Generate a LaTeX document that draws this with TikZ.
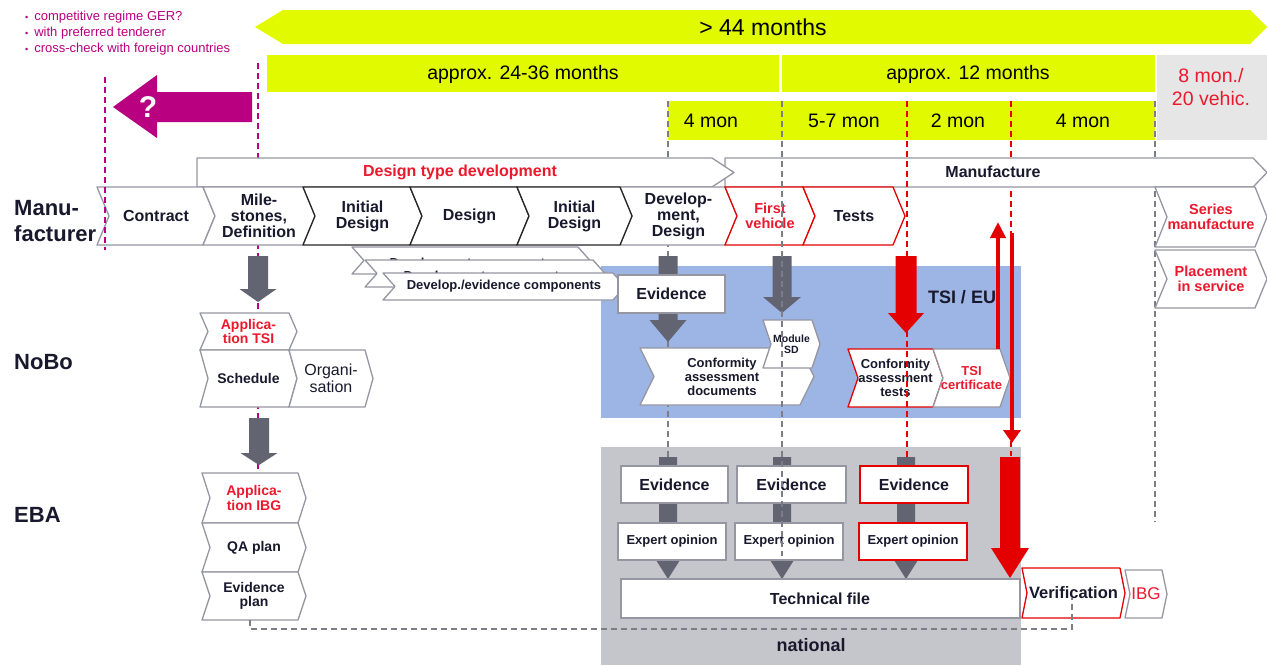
\documentclass[tikz,border=0pt]{standalone}
\usepackage{fontspec}
\setmainfont{Liberation Sans}
\usetikzlibrary{arrows.meta}
\definecolor{ylw}{RGB}{226,250,0}
\definecolor{mag}{RGB}{184,0,128}
\definecolor{blu}{RGB}{157,181,228}
\definecolor{nat}{RGB}{197,197,204}
\definecolor{gar}{RGB}{99,100,114}
\definecolor{cred}{RGB}{228,0,0}
\definecolor{tred}{RGB}{235,25,45}
\definecolor{ctext}{RGB}{25,25,45}
\definecolor{cgrey}{RGB}{150,150,162}
\definecolor{lgrey}{RGB}{230,230,230}
\definecolor{dgrey}{RGB}{125,125,135}
\newcommand{\fs}[2]{\fontsize{#1}{#2}\selectfont}
\tikzset{
 txt/.style={inner sep=0pt, align=center, text=ctext},
 rtxt/.style={text=tred},
 b16/.style={txt,font=\fs{16}{16}\bfseries},
 b15/.style={txt,font=\fs{14.5}{15}\bfseries},
 b14/.style={txt,font=\fs{14}{14.5}\bfseries},
 b13/.style={txt,font=\fs{13}{14}\bfseries},
 r16/.style={txt,font=\fs{16}{17}},
 tl/.style={inner sep=0pt, align=center, text=black, font=\fs{19.5}{23}},
 lab/.style={inner sep=0pt, align=left, text=ctext, font=\fs{22}{26}\bfseries, anchor=west},
 chevline/.style={draw=cgrey, line width=1.3pt, fill=white, line join=round},
 blk/.style={draw=black!85},
 rbrd/.style={draw=cred},
 boxs/.style={draw=cgrey, line width=1.3pt, fill=white},
 gdash/.style={draw=dgrey, line width=1.2pt, dash pattern=on 6pt off 4pt},
 rdash/.style={draw=cred, line width=1.2pt, dash pattern=on 6pt off 4pt},
 mdash/.style={draw=mag, line width=1.5pt, dash pattern=on 6pt off 4pt},
 note/.style={font=\fs{13}{16}, text=mag, anchor=west, inner sep=0pt},
}
% chevron: [style]{name}{x1}{y1}{x2}{y2}{depth}{textstyle}{text}
\newcommand{\chev}[9][]{%
 \draw[chevline,#1] (#3,#4) -- (#5,#4) -- ({#5+#7},{(#4+#6)/2}) -- (#5,#6) -- (#3,#6) -- ({#3+#7},{(#4+#6)/2}) -- cycle;
 \node[#8] (#2) at ({(#3+#5)/2+#7/2},{(#4+#6)/2}) {#9};
}
% block arrow: [style]{cx}{top}{headstart}{tip}{shaftw}{headw}{color}
\newcommand{\barrow}[8][]{%
 \fill[#8,#1] ({#2-#6/2},#3) -- ({#2+#6/2},#3) -- ({#2+#6/2},#4) -- ({#2+#7/2},#4) -- (#2,#5) -- ({#2-#7/2},#4) -- ({#2-#6/2},#4) -- cycle;
}
\begin{document}
\begin{tikzpicture}[x=1pt,y=-1pt]
\useasboundingbox (0,0) rectangle (1267,665);
\fill[white] (0,0) rectangle (1267,665);
% regions
\fill[blu] (601,266) rectangle (1021,418);
\fill[nat] (601,447) rectangle (1021,665);
% magenta notes
\node[note] (n1) at (25,17) {{\fs{9}{9}\textbullet}\hspace{6pt}competitive regime GER?};
\node[note] (n2) at (25,33) {{\fs{9}{9}\textbullet}\hspace{6pt}with preferred tenderer};
\node[note] (n3) at (25,49) {{\fs{9}{9}\textbullet}\hspace{6pt}cross-check with foreign countries};
\fill[mag] (113,107) -- (157,75) -- (157,92) -- (252,92) -- (252,122) -- (157,122) -- (157,138) -- cycle;
\node[inner sep=0pt, text=white, font=\fs{30}{30}\bfseries] (q) at (148,107) {?};
% timeline
\fill[ylw] (255,27) -- (283,10) -- (1250,10) -- (1267,27) -- (1250,44) -- (283,44) -- cycle;
\node[tl, font=\fs{23}{23}] (t44) at (763,27) {> 44 months};
\fill[ylw] (267,55) rectangle (779,92);
\node[tl] (t2436) at (523,74) {approx. 24-36 months};
\fill[ylw] (782,55) rectangle (1155,92);
\node[tl] (t12) at (968,74) {approx. 12 months};
\fill[lgrey] (1157,55) rectangle (1267,140);
\node[tl, text=tred] (t8) at (1211,87) {8 mon./\\20 vehic.};
\fill[ylw] (668,101) rectangle (1155,140);
\node[tl] (m1) at (711,121) {4 mon};
\node[tl] (m2) at (844,121) {5-7 mon};
\node[tl] (m3) at (958,121) {2 mon};
\node[tl] (m4) at (1083,121) {4 mon};
% early dashed lines (behind boxes)
\draw[mdash] (258,63) -- (258,472);
\draw[gdash] (668,101) -- (668,466);
\draw[rdash] (907,101) -- (907,523);
\draw[rdash] (1011,101) -- (1011,456);
\draw[gdash] (1155,101) -- (1155,522);
% phase bars
\draw[chevline] (725,158) -- (1253,158) -- (1267,172.5) -- (1253,187) -- (725,187) -- cycle;
\node[b16] (manu) at (993,172) {Manufacture};
\draw[chevline] (197,158) -- (712,158) -- (734,172.5) -- (712,187) -- (197,187) -- cycle;
\node[b16,rtxt] (dtd) at (460,172) {Design type development};
% manufacturer row
\chev{contract}{97}{187}{203}{245}{12}{b16}{Contract}
\chev{miles}{203}{187}{303}{245}{12}{b16}{Mile-\\stones,\\Definition}
\chev{devdes}{620}{187}{725}{245}{12}{b16}{Develop-\\ment,\\Design}
\chev[blk]{init1}{303}{187}{410}{245}{12}{b16}{Initial\\Design}
\chev[blk]{design}{410}{187}{517}{245}{12}{b16}{Design}
\chev[blk]{init2}{517}{187}{620}{245}{12}{b16}{Initial\\Design}
\chev[rbrd]{firstv}{725}{187}{803}{245}{12}{b15,rtxt}{First\\vehicle}
\chev[rbrd]{tests}{803}{187}{893}{245}{12}{b16}{Tests}
\chev{series}{1155}{187}{1255}{247}{12}{b15,rtxt}{Series\\manufacture}
\chev{placement}{1155}{250}{1255}{308}{12}{b15,rtxt}{Placement\\in service}
% development components stack
\chev{devcA}{352}{247}{578}{274}{12}{b13,yshift=-4pt}{Development components}
\chev{devcB}{365}{260}{593}{287}{12}{b13,yshift=-4pt}{Development components}
\chev{devcC}{383}{273}{613}{300}{12}{b13}{Develop./evidence components}
% block arrows
\barrow{258}{256}{289}{302}{20}{37}{gar}
\barrow{259}{418}{453}{465}{20}{37}{gar}
\barrow{668}{256}{320}{342}{19}{37}{gar}
\barrow{782}{256}{297}{313}{19}{38}{gar}
\barrow{906}{256}{313}{333}{21}{36}{cred}
\barrow{668}{457}{560}{579}{18}{24}{gar}
\barrow{782}{457}{560}{579}{18}{24}{gar}
\barrow{906}{457}{560}{579}{18}{24}{gar}
\barrow{1010}{457}{548}{578}{20}{38}{cred}
% NoBo
\draw[boxs] (618,275) rectangle (725,313);
\node[b16] (evnobo) at (671.5,294) {Evidence};
\chev{confdoc}{640}{348}{800}{405}{14}{b13,xshift=-5pt}{Conformity\\assessment\\documents}
\chev{modsd}{763}{320}{812}{368}{8}{txt,font=\fs{10.5}{11}\bfseries}{Module\\SD}
\chev[rbrd]{conftest}{848}{349}{933}{407}{10}{b13}{Conformity\\assessment\\tests}
\chev{tsicert}{933}{349}{1000}{407}{10}{b13,rtxt}{TSI\\certificate}
\node[txt, font=\fs{18}{18}\bfseries] (tsieu) at (962,297) {TSI / EU};
\chev{apptsi}{200}{313}{289}{350}{8}{b14,rtxt}{Applica-\\tion TSI}
\chev{sched}{200}{350}{289}{407}{8}{b14}{Schedule}
\chev{organ}{289}{350}{365}{407}{8}{r16}{Organi-\\sation}
% EBA
\chev{appibg}{202}{473}{298}{523}{8}{b14,rtxt}{Applica-\\tion IBG}
\chev{qaplan}{202}{523}{298}{572}{8}{b14}{QA plan}
\chev{evplan}{202}{572}{298}{620}{8}{b14}{Evidence\\plan}
\draw[boxs] (621,466) rectangle (728,503);
\node[b16] (ev1) at (674.5,484.5) {Evidence};
\draw[boxs] (737,466) rectangle (846,503);
\node[b16] (ev2) at (791.5,484.5) {Evidence};
\draw[boxs, draw=cred] (860,466) rectangle (968,503);
\node[b16] (ev3) at (914,484.5) {Evidence};
\draw[boxs] (618,523) rectangle (726,560);
\node[b13] (ex1) at (672,541.5) {Expert opinion};
\draw[boxs] (735,523) rectangle (843,560);
\node[b13] (ex2) at (789,541.5) {Expert opinion};
\draw[boxs, draw=cred] (859,523) rectangle (967,560);
\node[b13] (ex3) at (913,541.5) {Expert opinion};
\draw[boxs] (621,579) rectangle (1020,618);
\node[b16] (techfile) at (820,598.5) {Technical file};
\node[txt, font=\fs{18}{18}\bfseries] (national) at (811,645) {national};
\chev[rbrd]{verif}{1022}{568}{1120}{618}{5}{txt,font=\fs{16.5}{17}\bfseries}{Verification}
\chev{ibg}{1125}{570}{1162}{618}{5}{txt,rtxt,font=\fs{17}{17}}{IBG}
% late dashed lines (over boxes)
\draw[mdash] (105,77) -- (105,250);
\draw[gdash] (782,101) -- (782,556);
\draw[rdash] (907,101) -- (907,430);
\coordinate (dl1) at (250,620);
\coordinate (dl2) at (250,629);
\coordinate (dl3) at (1072,629);
\coordinate (dl4) at (1072,598);
\draw[gdash] (dl1) -- (dl2) -- (dl3) -- (dl4);
% thin red arrows
\coordinate (uA) at (998,349);
\coordinate (uB) at (998,222);
\draw[cred, line width=4pt, -{Triangle[width=15pt,length=16pt]}] (uA) -- (uB);
\coordinate (dA) at (1012,233);
\coordinate (dB) at (1012,443);
\draw[cred, line width=3.5pt, -{Triangle[width=17pt,length=13pt]}] (dA) -- (dB);
% row labels
\node[lab] (lman) at (14,221) {Manu-\\facturer};
\node[lab] (lnobo) at (14,362) {NoBo};
\node[lab] (leba) at (14,515) {EBA};
\end{tikzpicture}
\end{document}
